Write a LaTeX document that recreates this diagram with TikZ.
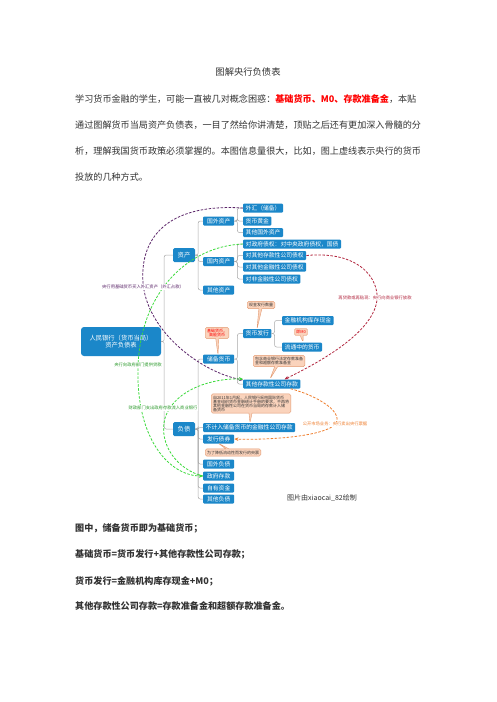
\documentclass[tikz,border=0pt]{standalone}
\usepackage{fontspec}
\setmainfont{Noto Sans CJK SC}
\usetikzlibrary{arrows.meta, shapes.callouts}
\definecolor{lan}{HTML}{1B87C9}
\definecolor{juhuang}{HTML}{FAD3BC}
\definecolor{juxian}{HTML}{E39A72}
\definecolor{zi}{HTML}{5A2468}
\definecolor{lv}{HTML}{3CDB3C}
\definecolor{hong}{HTML}{B32840}
\definecolor{cheng}{HTML}{EF7D2C}
\definecolor{wz}{HTML}{333333}
\definecolor{xian}{HTML}{A8A8A8}
\newcommand{\fsz}[1]{\fontsize{#1}{#1}\selectfont}

\begin{document}
\begin{tikzpicture}[x=1pt, y=-1pt,
        zw/.style={anchor=west, inner sep=0pt, text=wz, font=\fsz{9.1}},
        gen/.style={fill=lan, text=white, rounded corners=3pt, minimum width=80pt, minimum height=29pt, align=center, font=\fsz{6.3}},
        yj/.style={fill=lan, text=white, rounded corners=1.5pt, minimum width=22pt, minimum height=14pt, inner sep=0pt, font=\fsz{6.3}},
        bx/.style={fill=lan, text=white, rounded corners=1pt, anchor=west, minimum height=9pt, inner xsep=2.5pt, inner ysep=0pt, font=\fsz{5.8}},
        ej/.style={bx, minimum width=31pt},
        note/.style={rectangle callout, fill=juhuang, draw=juxian, line width=0.4pt, rounded corners=1.5pt, callout pointer width=3pt, inner sep=1.8pt, align=left, text=wz, font=\fsz{4}},
        ln/.style={xian, line width=0.5pt, rounded corners=2pt},
        xu/.style={dash pattern=on 2.5pt off 1.5pt, line width=0.8pt, -{Stealth[length=4pt, width=3.5pt]}},
        bq/.style={fill=white, inner sep=0.5pt, font=\fsz{4.3}}]
    \useasboundingbox (0,0) rectangle (496,702);
    \fill[white] (0,0) rectangle (496,702);

    % text above
    \node[text=wz, font=\fsz{9.3}] (title) at (248,72) {图解央行负债表};
    \node[zw] (p1) at (75,99) {学习货币金融的学生，可能一直被几对概念困惑：\textcolor{red}{\textbf{基础货币、M0、存款准备金}}，本贴};
    \node[zw] (p2) at (75,125) {通过图解货币当局资产负债表，一目了然给你讲清楚，顶贴之后还有更加深入骨髓的分};
    \node[zw] (p3) at (75,151) {析，理解我国货币政策必须掌握的。本图信息量很大，比如，图上虚线表示央行的货币};
    \node[zw] (p4) at (75,177) {投放的几种方式。};

    % tree
    \node[gen] (root) at (121,341.5) {人民银行（货币当局）\\资产负债表};
    \node[yj] (zc) at (184,255) {资产};
    \node[yj] (fz) at (184,429) {负债};

    \node[ej] (gwzc) at (203,221) {国外资产};
    \node[ej] (gnzc) at (203,261.5) {国内资产};
    \node[ej] (qtzc) at (203,290) {其他资产};

    \node[bx] (wh) at (243,208) {外汇（储备）};
    \node[bx] (hjhj) at (243,221) {货币黄金};
    \node[bx] (qtgw) at (243,232.5) {其他国外资产};
    \node[bx] (dzf) at (243,244) {对政府债权：对中央政府债权，国债};
    \node[bx] (dqc) at (243,255.5) {对其他存款性公司债权};
    \node[bx] (dqj) at (243,267) {对其他金融性公司债权};
    \node[bx] (dfj) at (243,279) {对非金融性公司债权};

    \node[ej] (cbhb) at (203,359) {储备货币};
    \node[bx] (hbfx) at (243,333.5) {货币发行};
    \node[bx] (qtck) at (243,384) {其他存款性公司存款};
    \node[bx] (jrkc) at (282,320.5) {金融机构库存现金};
    \node[bx] (ltzhb) at (282,347) {流通中的货币};

    \node[ej] (bjr) at (203,427.5) {不计入储备货币的金融性公司存款};
    \node[ej] (fxzq) at (203,439) {发行债券};
    \node[ej] (gwfz) at (203,464) {国外负债};
    \node[ej] (zfck) at (203,476) {政府存款};
    \node[ej] (zyzj) at (203,488) {自有资金};
    \node[ej] (qtfz) at (203,499) {其他负债};

    \foreach \p/\c in {root/zc, root/fz, zc/gwzc, zc/gnzc, zc/qtzc, gwzc/wh, gwzc/hjhj, gwzc/qtgw,
        gnzc/dzf, gnzc/dqc, gnzc/dqj, gnzc/dfj, fz/cbhb, fz/bjr, fz/fxzq, fz/gwfz, fz/zfck, fz/zyzj, fz/qtfz,
        cbhb/hbfx, cbhb/qtck, hbfx/jrkc, hbfx/ltzhb}
        \draw[ln] (\p.east) -- ++(3,0) |- (\c.west);

    % notes
    \node[note, callout absolute pointer={(257,329)}] (n1) at (261,305) {现金发行数量};
    \node[note, text=red, align=center, callout absolute pointer={(218,355)}] (n2) at (217,333) {基础货币，\\高能货币};
    \node[note, text=red, callout absolute pointer={(303,342)}] (n3) at (301,332) {即M0};
    \node[note, callout absolute pointer={(270,379)}] (n4) at (279,361) {包含商业银行法定存款准备\\金和超额存款准备金};
    \node[note, callout absolute pointer={(250,423)}] (n5) at (251,403.5) {自2011年1月起，人民银行采用国际货币\\基金组织货币金融统计手册的要求，不再将\\其他金融性公司在货币当局的存款计入储\\备货币};
    \node[note, callout absolute pointer={(218,443)}] (n6) at (233,452.5) {为了降低流动性而发行的央票};

    % dashed lines
    \draw[xu, zi] (wh.west) .. controls (165,203) and (140,240) .. (143,282) .. controls (146,330) and (200,372) .. ([yshift=4pt]qtck.west);
    \draw[xu, lv] (dzf.west) .. controls (190,246) and (140,290) .. (138,368) .. controls (136,440) and (170,476) .. (zfck.west);
    \draw[xu, lv] (zfck.west) .. controls (178,470) and (158,445) .. (165,418) .. controls (175,388) and (215,378) .. ([yshift=5pt]qtck.west);
    \draw[xu, hong] (dqc.east) .. controls (365,250) and (382,285) .. (376,305) .. controls (368,335) and (320,362) .. ([xshift=-16pt]qtck.north east);
    \draw[xu, cheng] ([xshift=-10pt]qtck.south east) .. controls (325,398) and (350,418) .. (330,428) .. controls (310,438) and (260,440) .. (fxzq.east);

    \node[bq, text=zi] (l1) at (143,287) {央行用基础货币买入外汇资产（外汇占款）};
    \node[bq, text=lv!70!black] (l2) at (138,365) {央行向政府部门提供贷款};
    \node[bq, text=lv!70!black] (l3) at (163,408) {财政部门支出政府存款流入商业银行};
    \node[bq, text=hong] (l4) at (375,298) {再贷款或再贴现：央行向商业银行放款};
    \node[bq, text=cheng] (l5) at (335,424) {公开市场业务：央行卖出央行票据};

    \node[text=wz, font=\fsz{7}] (sy) at (322,498) {图片由xiaocai\_82绘制};

    % text below
    \node[zw, font=\fsz{9.1}\bfseries] (b1) at (75,528) {图中，储备货币即为基础货币；};
    \node[zw, font=\fsz{9.1}\bfseries] (b2) at (75,554) {基础货币=货币发行+其他存款性公司存款；};
    \node[zw, font=\fsz{9.1}\bfseries] (b3) at (75,581) {货币发行=金融机构库存现金+M0；};
    \node[zw, font=\fsz{9.1}\bfseries] (b4) at (75,606) {其他存款性公司存款=存款准备金和超额存款准备金。};
\end{tikzpicture}
\end{document}
